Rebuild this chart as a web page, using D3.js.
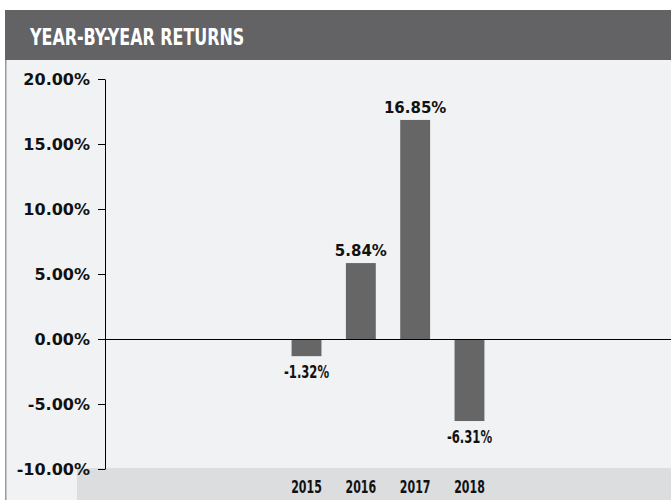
<!DOCTYPE html>
<html>
<head>
<meta charset="utf-8">
<script src="https://cdn.jsdelivr.net/npm/d3@7"></script>
<style>
  body { margin: 0; background: #fff; }
</style>
</head>
<body>
<div id="chart"></div>
<script>
var w = 671;
var h = 500;

var title = "YEAR-BY-YEAR RETURNS";
var years = ["2015", "2016", "2017", "2018"];
var returns = [-1.32, 5.84, 16.85, -6.31];
var yTicks = [-10, -5, 0, 5, 10, 15, 20];

var data = years.map(function(y, i) { return { year: y, value: returns[i] }; });

var plotLeft = 105, plotRight = 671, plotTop = 79, plotBottom = 469;
var narrow = "'DejaVu Sans Condensed', 'DejaVu Sans', sans-serif";
var wide = "'DejaVu Sans', sans-serif";

// plain hyphen instead of d3's unicode minus
var pct = function(v) { return d3.format(".2f")(v).replace("\u2212", "-") + "%"; };

var svg = d3.select("#chart")
            .append("svg")
            .attr("width", w)
            .attr("height", h);

// header bar
svg.append("rect")
   .attr("x", 5).attr("y", 10)
   .attr("width", w - 5).attr("height", 50)
   .attr("fill", "#636366");

svg.append("text")
   .text(title)
   .attr("transform", "translate(30,45) scale(0.77,1)")
   .attr("fill", "#fff")
   .attr("font-family", narrow)
   .attr("font-weight", "bold")
   .attr("font-size", "23px");

// panel
svg.append("rect")
   .attr("x", 5).attr("y", 60)
   .attr("width", w - 5).attr("height", h - 60)
   .attr("fill", "#f1f2f4");

svg.append("rect")
   .attr("x", 5).attr("y", 60)
   .attr("width", 1.5).attr("height", h - 60)
   .attr("fill", "#999");

var xScale = d3.scaleBand()
               .domain(years)
               .range([plotLeft, plotRight])
               .paddingInner(0.45)
               .paddingOuter(3.435);

var yScale = d3.scaleLinear()
               .domain([-10, 20])
               .range([plotBottom, plotTop]);

// bottom band with year labels
svg.append("rect")
   .attr("x", 77).attr("y", plotBottom - 1)
   .attr("width", w - 77).attr("height", h - plotBottom + 1)
   .attr("fill", "#dcdddf");

var yAxis = d3.axisLeft(yScale)
              .tickValues(yTicks)
              .tickSize(7)
              .tickSizeOuter(0)
              .tickPadding(8)
              .tickFormat(pct);

var gy = svg.append("g")
   .attr("transform", "translate(" + plotLeft + ",0)")
   .call(yAxis);

gy.selectAll("text")
  .attr("font-family", wide)
  .attr("font-weight", "bold")
  .attr("font-size", "16px")
  .attr("fill", "#111");

gy.selectAll("line, path").attr("stroke", "#000");

// bars
svg.selectAll("rect.bar")
   .data(data)
   .enter()
   .append("rect")
   .attr("class", "bar")
   .attr("x", function(d) { return xScale(d.year); })
   .attr("y", function(d) { return yScale(Math.max(0, d.value)); })
   .attr("width", xScale.bandwidth())
   .attr("height", function(d) { return Math.abs(yScale(d.value) - yScale(0)); })
   .attr("fill", "#666666");

// zero line
svg.append("line")
   .attr("x1", plotLeft).attr("x2", plotRight)
   .attr("y1", yScale(0) + 0.5).attr("y2", yScale(0) + 0.5)
   .attr("stroke", "#000");

// value labels
svg.selectAll("text.val")
   .data(data)
   .enter()
   .append("text")
   .attr("class", "val")
   .text(function(d) { return pct(d.value); })
   .attr("transform", function(d) {
     var cx = xScale(d.year) + xScale.bandwidth() / 2;
     var cy = d.value >= 0 ? yScale(d.value) - 7 : yScale(d.value) + 22;
     return "translate(" + cx + "," + cy + ")" + (d.value >= 0 ? "" : " scale(0.76,1)");
   })
   .attr("text-anchor", "middle")
   .attr("font-family", function(d) { return d.value >= 0 ? wide : narrow; })
   .attr("font-weight", "bold")
   .attr("font-size", function(d) { return d.value >= 0 ? "15px" : "17px"; })
   .attr("fill", "#111");

// year labels
svg.selectAll("text.year")
   .data(years)
   .enter()
   .append("text")
   .attr("class", "year")
   .text(function(d) { return d; })
   .attr("transform", function(d) {
     return "translate(" + (xScale(d) + xScale.bandwidth() / 2) + ",493) scale(0.72,1)";
   })
   .attr("text-anchor", "middle")
   .attr("font-family", narrow)
   .attr("font-weight", "bold")
   .attr("font-size", "17px")
   .attr("fill", "#111");
</script>
</body>
</html>
